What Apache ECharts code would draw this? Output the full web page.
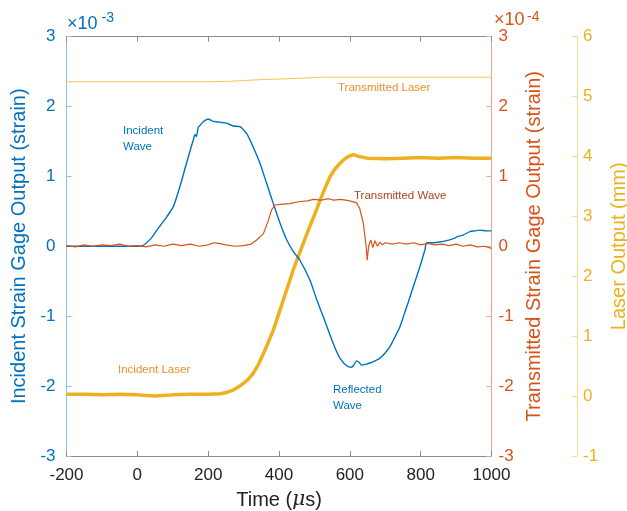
<!DOCTYPE html>
<html>
<head>
<meta charset="utf-8">
<script src="https://cdn.jsdelivr.net/npm/echarts@6/dist/echarts.min.js"></script>
<style>
  html, body { margin: 0; padding: 0; background: #fff; }
  #chart { width: 627px; height: 511px; }
</style>
</head>
<body>
<div id="chart"></div>
<script>
// Incident / reflected strain (x10^-3), left axis
const incidentTime = [-200, -100, 0, 16, 40, 55, 70, 83, 102, 120, 139, 152, 158, 163, 167, 172, 177, 186, 200, 212, 224, 238, 252, 271, 290, 309, 327, 346, 365, 384, 403, 422, 441, 459, 487, 507, 525, 553, 572, 591, 605, 612, 619, 626, 633, 645, 657, 671, 685, 699, 713, 727, 740, 751, 765, 779, 798, 812, 817, 835, 854, 873, 892, 906, 920, 939, 953, 967, 985, 1000];
const incidentStrain = [0, 0, 0, 0.01, 0.12, 0.23, 0.33, 0.42, 0.57, 0.85, 1.19, 1.42, 1.52, 1.60, 1.57, 1.70, 1.73, 1.78, 1.82, 1.79, 1.78, 1.77, 1.76, 1.72, 1.71, 1.61, 1.42, 1.19, 0.90, 0.61, 0.33, 0.09, -0.08, -0.20, -0.48, -0.77, -1.01, -1.39, -1.60, -1.71, -1.73, -1.69, -1.64, -1.66, -1.70, -1.69, -1.67, -1.64, -1.60, -1.53, -1.44, -1.30, -1.17, -1.01, -0.80, -0.58, -0.29, -0.05, 0.05, 0.05, 0.06, 0.08, 0.11, 0.14, 0.16, 0.21, 0.22, 0.23, 0.22, 0.22];

// Transmitted strain (x10^-4), first right axis
const transmittedTime = [-200, -175, -150, -125, -100, -75, -50, -25, 0, 25, 50, 75, 100, 125, 150, 175, 200, 215, 230, 250, 275, 300, 320, 337, 356, 370, 379, 389, 403, 431, 459, 480, 497, 520, 540, 554, 575, 600, 619, 628, 638, 646, 649, 653, 659, 665, 671, 678, 685, 692, 700, 720, 740, 760, 780, 800, 820, 840, 860, 880, 900, 920, 940, 960, 980, 1000];
const transmittedStrain = [0.01, -0.01, 0.02, 0.0, 0.02, 0.01, 0.03, 0.0, 0.01, -0.01, 0.02, 0.0, 0.03, 0.01, 0.03, 0.0, 0.02, 0.05, 0.04, 0.02, 0.0, 0.01, 0.03, 0.09, 0.18, 0.37, 0.52, 0.59, 0.60, 0.61, 0.64, 0.65, 0.67, 0.66, 0.68, 0.66, 0.67, 0.65, 0.62, 0.54, 0.33, 0.0, -0.20, 0.0, 0.09, -0.02, 0.08, 0.0, 0.06, 0.02, 0.05, 0.03, 0.05, 0.03, 0.05, 0.02, 0.04, 0.02, 0.03, 0.01, 0.03, 0.0, 0.02, -0.01, 0.0, -0.03];

// Incident laser displacement (mm), laser axis
const incidentLaserTime = [-200, -150, -100, -50, 0, 50, 100, 150, 200, 233, 252, 271, 285, 299, 313, 327, 342, 356, 370, 384, 398, 412, 426, 440, 459, 473, 487, 502, 516, 530, 544, 558, 572, 582, 591, 600, 610, 625, 648, 700, 750, 800, 850, 900, 950, 1000];
const incidentLaser = [0.03, 0.03, 0.02, 0.03, 0.02, 0.0, 0.02, 0.03, 0.03, 0.04, 0.06, 0.10, 0.15, 0.21, 0.28, 0.38, 0.53, 0.71, 0.90, 1.10, 1.35, 1.60, 1.85, 2.10, 2.40, 2.62, 2.83, 3.05, 3.27, 3.47, 3.66, 3.79, 3.88, 3.94, 3.98, 4.01, 4.03, 4.00, 3.97, 3.96, 3.97, 3.98, 3.97, 3.98, 3.97, 3.97];

// Transmitted laser displacement (mm), laser axis
const transmittedLaserTime = [-200, 0, 200, 250, 300, 350, 400, 450, 500, 520, 600, 800, 1000];
const transmittedLaser = [5.245, 5.245, 5.245, 5.25, 5.265, 5.28, 5.29, 5.30, 5.315, 5.32, 5.32, 5.32, 5.32];

// Axis ticks
const timeTicks = { min: -200, max: 1000, step: 200 };
const strainTicks = { min: -3, max: 3, step: 1 };
const laserTicks = { min: -1, max: 6, step: 1 };

const FONT = "'Liberation Sans', Arial, Helvetica, sans-serif";
const BLUE = '#0072BD';
const RED = '#D95319';
const GOLD = '#EDB120';

function pairs(xs, ys) { return xs.map((x, i) => [x, ys[i]]); }
const plain = v => String(v);

const chart = echarts.init(document.getElementById('chart'), null, { renderer: 'canvas' });

function yAxisCommon(color, lineColor) {
  return {
    type: 'value',
    nameLocation: 'middle',
    nameRotate: 90,
    nameTextStyle: { color: color, fontSize: 20, fontFamily: FONT },
    axisLine: { show: true, onZero: false, lineStyle: { color: lineColor, width: 1 } },
    axisTick: { show: true, inside: true, length: 5, lineStyle: { color: lineColor } },
    splitLine: { show: false }
  };
}

const option = {
  animation: false,
  backgroundColor: '#ffffff',
  grid: { left: 66.5, right: 135.5, top: 36.5, bottom: 55, containLabel: false, outerBoundsMode: 'none' },
  xAxis: [
    {
      type: 'value', position: 'bottom',
      min: timeTicks.min, max: timeTicks.max, interval: timeTicks.step,
      name: 'Time ({it|μ}s)',
      nameLocation: 'middle', nameGap: 34,
      nameTextStyle: {
        color: '#222', fontSize: 20, fontFamily: FONT,
        rich: { it: { fontStyle: 'italic', fontSize: 20, fontFamily: "'DejaVu Serif', serif", color: '#222' } }
      },
      axisLine: { show: true, onZero: false, lineStyle: { color: '#8a8a8a', width: 1 } },
      axisTick: { show: true, inside: true, length: 5, lineStyle: { color: '#8a8a8a' } },
      axisLabel: { color: '#222', fontSize: 17, fontFamily: FONT, margin: 11, formatter: plain },
      splitLine: { show: false }
    },
    {
      type: 'value', position: 'top',
      min: timeTicks.min, max: timeTicks.max, interval: timeTicks.step,
      axisLine: { show: true, onZero: false, lineStyle: { color: '#8a8a8a', width: 1 } },
      axisTick: { show: true, inside: true, length: 5, lineStyle: { color: '#8a8a8a' } },
      axisLabel: { show: false },
      splitLine: { show: false }
    }
  ],
  yAxis: [
    Object.assign(yAxisCommon(BLUE, '#8fc0e6'), {
      position: 'left',
      min: strainTicks.min, max: strainTicks.max, interval: strainTicks.step,
      name: 'Incident Strain Gage Output (strain)', nameGap: 35,
      axisLabel: { color: BLUE, fontSize: 17, fontFamily: FONT, margin: 11, formatter: plain }
    }),
    Object.assign(yAxisCommon(RED, '#efa68a'), {
      position: 'right',
      min: strainTicks.min, max: strainTicks.max, interval: strainTicks.step,
      name: 'Transmitted Strain Gage Output (strain)', nameGap: 31,
      axisLabel: { color: RED, fontSize: 17, fontFamily: FONT, margin: 7, formatter: plain }
    }),
    Object.assign(yAxisCommon(GOLD, '#f7d98f'), {
      position: 'right', offset: 85.5,
      min: laserTicks.min, max: laserTicks.max, interval: laserTicks.step,
      name: 'Laser Output (mm)', nameGap: 30,
      axisLabel: { color: GOLD, fontSize: 17, fontFamily: FONT, margin: 6, formatter: plain }
    })
  ],
  series: [
    {
      name: 'Transmitted Laser', type: 'line', yAxisIndex: 2,
      data: pairs(transmittedLaserTime, transmittedLaser),
      showSymbol: false, smooth: false,
      lineStyle: { color: '#f3c453', width: 1 }
    },
    {
      name: 'Incident Laser', type: 'line', yAxisIndex: 2,
      data: pairs(incidentLaserTime, incidentLaser),
      showSymbol: false, smooth: false,
      lineStyle: { color: GOLD, width: 3.5 }
    },
    {
      name: 'Incident Wave', type: 'line', yAxisIndex: 0,
      data: pairs(incidentTime, incidentStrain),
      showSymbol: false, smooth: 0.2,
      lineStyle: { color: BLUE, width: 1.4 }
    },
    {
      name: 'Transmitted Wave', type: 'line', yAxisIndex: 1,
      data: pairs(transmittedTime, transmittedStrain),
      showSymbol: false, smooth: false,
      lineStyle: { color: RED, width: 1.2 }
    }
  ]
};

chart.setOption(option);

// Text annotations anchored in data space (time, incident-strain axis)
const notes = [
  { text: 'Incident\nWave', at: [-40.5, 1.76], color: BLUE, va: 'top' },
  { text: 'Transmitted Laser', at: [566.6, 2.26], color: '#ec8f2c', va: 'middle' },
  { text: 'Transmitted Wave', at: [611.7, 0.72], color: '#a8461f', va: 'middle' },
  { text: 'Incident Laser', at: [-54.6, -1.77], color: '#ec8f2c', va: 'middle' },
  { text: 'Reflected\nWave', at: [552.4, -1.94], color: BLUE, va: 'top' }
];

const graphics = notes.map(n => {
  const p = chart.convertToPixel({ xAxisIndex: 0, yAxisIndex: 0 }, n.at);
  return {
    type: 'text', x: p[0], y: p[1], silent: true,
    style: {
      text: n.text, fill: n.color, fontSize: 11.5, fontFamily: FONT,
      lineHeight: 16, align: 'left', verticalAlign: n.va
    }
  };
});

// Exponent labels above the two strain axes
graphics.push(
  { type: 'text', x: 67, y: 33, style: { text: '×10', fill: BLUE, fontSize: 18, fontFamily: FONT, align: 'left', verticalAlign: 'bottom' } },
  { type: 'text', x: 101.5, y: 11.5, style: { text: '-3', fill: BLUE, fontSize: 14, fontFamily: FONT, align: 'left', verticalAlign: 'top' } },
  { type: 'text', x: 494, y: 29.5, style: { text: '×10', fill: RED, fontSize: 18, fontFamily: FONT, align: 'left', verticalAlign: 'bottom' } },
  { type: 'text', x: 527, y: 10, style: { text: '-4', fill: RED, fontSize: 14, fontFamily: FONT, align: 'left', verticalAlign: 'top' } }
);

chart.setOption({ graphic: graphics });
</script>
</body>
</html>
